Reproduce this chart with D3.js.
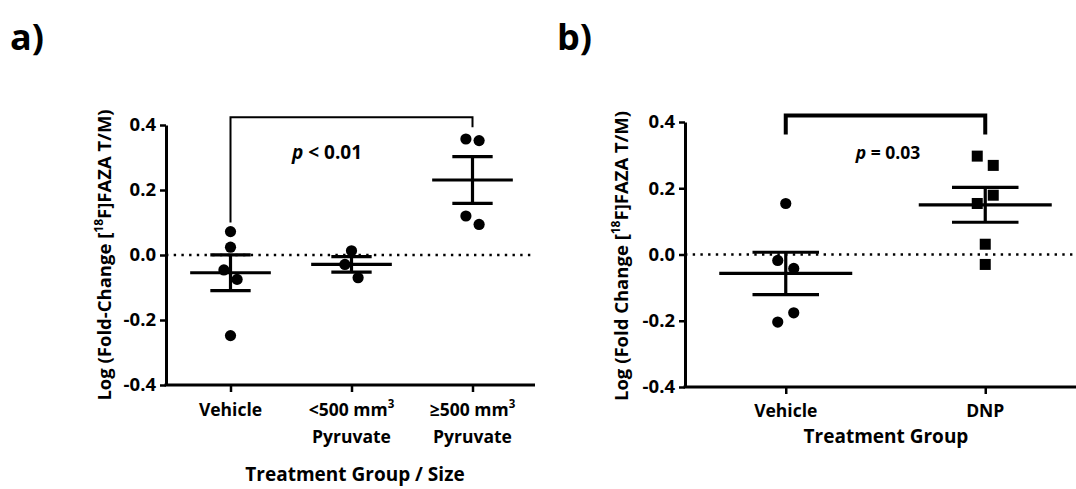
<!DOCTYPE html>
<html lang="en">
<head>
    <meta charset="UTF-8">
    <title>FAZA fold change</title>
    <script src="https://cdn.jsdelivr.net/npm/d3@7"></script>
    <style>
        body { margin: 0; background: #fff; }
        text { font-family: "Open Sans", sans-serif; font-weight: 700; fill: #000; }
    </style>
</head>
<body>
<svg id="main" width="1076" height="489"></svg>
<script>
    // ---- data ----
    const groupsA = ['Vehicle', '<500 Pyruvate', '>=500 Pyruvate'];
    const tickTopA = ['Vehicle', '<500 mm', '\u2265500 mm'];
    const tickSupA = ['', '3', '3'];
    const tickBottomA = ['', 'Pyruvate', 'Pyruvate'];

    const vehicleA = [0.072, 0.024, -0.046, -0.075, -0.248];
    const smallPyrA = [0.013, -0.029, -0.070];
    const largePyrA = [0.357, 0.352, 0.120, 0.094];
    // side-by-side lane of each dot (GraphPad style dodge)
    const vehicleALane = [0, 0, -1, 1, 0];
    const smallPyrALane = [0, -1, 1];
    const largePyrALane = [-1, 1, -1, 1];

    const groupsB = ['Vehicle', 'DNP'];
    const vehicleB = [0.154, -0.018, -0.042, -0.176, -0.204];
    const dnpB = [0.297, 0.269, 0.179, 0.154, 0.031, -0.030];
    const vehicleBLane = [0, -1, 1, 1, -1];
    const dnpBLane = [-1, 1, 1, -1, 0, 0];

    const yTicks = [-0.4, -0.2, 0.0, 0.2, 0.4];
    const pTextA = ['p', ' < 0.01'];
    const pTextB = ['p', ' = 0.03'];
    // bracket: [from group, to group, top, left foot, right foot] in y units
    const bracketA = [0, 2, 0.424, 0.100, 0.393];
    const bracketB = [0, 1, 0.420, 0.362, 0.362];

    let svg = d3.select('svg#main');

    function panel(opt) {
        let g = svg.append('g');
        let x = d3.scalePoint().domain(opt.groups).range(opt.xRange).padding(0.5);
        let y = d3.scaleLinear().domain([-0.4, 0.4]).range(opt.yRange);
        let step = x.step();

        // dotted zero line
        g.append('line')
            .attr('x1', opt.axisX[0]).attr('x2', opt.axisX[1])
            .attr('y1', y(0)).attr('y2', y(0))
            .attr('stroke', '#000').attr('stroke-width', 2.4)
            .attr('stroke-dasharray', '2.4,5.3');

        // y axis
        let ya = g.append('g')
            .attr('transform', 'translate(' + opt.axisX[0] + ',0)')
            .call(d3.axisLeft(y).tickValues(yTicks).tickSize(6).tickSizeOuter(0).tickPadding(4)
                .tickFormat(d => d.toFixed(1)));
        ya.select('.domain').attr('stroke-width', 3);
        ya.selectAll('.tick line').attr('stroke-width', 2.5);
        ya.selectAll('.tick text').attr('font-size', 18.5).attr('font-family', null);

        // x axis
        let xa = g.append('g')
            .attr('transform', 'translate(0,' + y(-0.4) + ')')
            .call(d3.axisBottom(x).tickSize(7).tickFormat(''));
        xa.select('.domain').remove();
        xa.selectAll('.tick line').attr('stroke-width', 2.5);
        g.append('line')
            .attr('x1', opt.axisX[0] - 1.5).attr('x2', opt.axisX[1])
            .attr('y1', y(-0.4)).attr('y2', y(-0.4))
            .attr('stroke', '#000').attr('stroke-width', 3);

        // tick labels
        opt.groups.forEach((grp, i) => {
            let t = g.append('text')
                .attr('x', x(grp)).attr('y', opt.tickY)
                .attr('text-anchor', 'middle').attr('font-size', 17.5);
            t.append('tspan').text(opt.top[i]);
            if (opt.sup && opt.sup[i]) {
                t.append('tspan').attr('font-size', 11.5).attr('dy', -8).text(opt.sup[i]);
            }
            if (opt.bottom && opt.bottom[i]) {
                g.append('text')
                    .attr('x', x(grp)).attr('y', opt.tickY + 27)
                    .attr('text-anchor', 'middle').attr('font-size', 17.5)
                    .text(opt.bottom[i]);
            }
        });

        // x title
        g.append('text')
            .attr('x', opt.titleX).attr('y', opt.titleY)
            .attr('text-anchor', 'middle').attr('font-size', 19)
            .text(opt.xTitle);

        // y title
        let yt = g.append('text')
            .attr('transform', 'translate(' + opt.yTitleX + ',' + opt.yTitleY + ') rotate(-90)')
            .attr('text-anchor', 'middle').attr('font-size', 18.5);
        yt.append('tspan').text(opt.yTitle[0]);
        yt.append('tspan').attr('font-size', 12).attr('dy', -8).text('18');
        yt.append('tspan').attr('dy', 8).text(opt.yTitle[1]);

        // dots, mean and SEM
        opt.series.forEach((vals, i) => {
            let cx = x(opt.groups[i]);
            let lanes = opt.lanes[i];
            let pts = vals.map((v, j) => ({v: v, lane: lanes[j]}));
            if (opt.square[i]) {
                g.selectAll(null).data(pts).enter().append('rect')
                    .attr('x', d => cx + d.lane * opt.laneW - 5.5)
                    .attr('y', d => y(d.v) - 5.5)
                    .attr('width', 11).attr('height', 11)
                    .attr('fill', '#000');
            } else {
                g.selectAll(null).data(pts).enter().append('circle')
                    .attr('cx', d => cx + d.lane * opt.laneW)
                    .attr('cy', d => y(d.v))
                    .attr('r', 5.6)
                    .attr('fill', '#000');
            }
            let m = d3.mean(vals);
            let sem = d3.deviation(vals) / Math.sqrt(vals.length);
            let lines = [
                [cx - step / 3, cx + step / 3, y(m), y(m)],
                [cx - step / 6, cx + step / 6, y(m + sem), y(m + sem)],
                [cx - step / 6, cx + step / 6, y(m - sem), y(m - sem)],
                [cx, cx, y(m + sem), y(m - sem)]
            ];
            g.selectAll(null).data(lines).enter().append('line')
                .attr('x1', d => d[0]).attr('x2', d => d[1])
                .attr('y1', d => d[2]).attr('y2', d => d[3])
                .attr('stroke', '#000').attr('stroke-width', 3.2);
        });

        // significance bracket
        let b = opt.bracket;
        let bx0 = x(opt.groups[b[0]]), bx1 = x(opt.groups[b[1]]);
        g.append('path')
            .attr('d', 'M' + bx0 + ',' + y(b[3]) + 'V' + y(b[2]) + 'H' + bx1 + 'V' + y(b[4]))
            .attr('fill', 'none').attr('stroke', '#000')
            .attr('stroke-width', opt.bracketW);
        let pt = g.append('text')
            .attr('x', opt.pX).attr('y', opt.pY)
            .attr('text-anchor', 'middle').attr('font-size', opt.pSize);
        pt.append('tspan').attr('font-style', 'italic').text(opt.pText[0]);
        pt.append('tspan').text(opt.pText[1]);

        // panel letter
        g.append('text')
            .attr('x', opt.letterX).attr('y', 50)
            .attr('font-size', 36)
            .text(opt.letter);
    }

    panel({
        groups: groupsA, top: tickTopA, sup: tickSupA, bottom: tickBottomA,
        series: [vehicleA, smallPyrA, largePyrA],
        lanes: [vehicleALane, smallPyrALane, largePyrALane],
        square: [false, false, false],
        xRange: [170, 533], yRange: [385, 125], axisX: [166, 535],
        laneW: 6.6, tickY: 416, titleX: 355, titleY: 481,
        xTitle: 'Treatment Group / Size',
        yTitleX: 111, yTitleY: 255,
        yTitle: ['Log (Fold-Change [', 'F]FAZA T/M)'],
        bracket: bracketA, bracketW: 2, pText: pTextA, pSize: 19, pX: 327, pY: 159,
        letter: 'a)', letterX: 10
    });

    panel({
        groups: groupsB, top: groupsB,
        series: [vehicleB, dnpB],
        lanes: [vehicleBLane, dnpBLane],
        square: [false, true],
        xRange: [686, 1085], yRange: [387, 122], axisX: [685, 1076],
        laneW: 8, tickY: 417, titleX: 886, titleY: 443,
        xTitle: 'Treatment Group',
        yTitleX: 628, yTitleY: 256,
        yTitle: ['Log (Fold Change [', 'F]FAZA T/M)'],
        bracket: bracketB, bracketW: 4, pText: pTextB, pSize: 17.5, pX: 888, pY: 159,
        letter: 'b)', letterX: 557
    });
</script>
</body>
</html>
